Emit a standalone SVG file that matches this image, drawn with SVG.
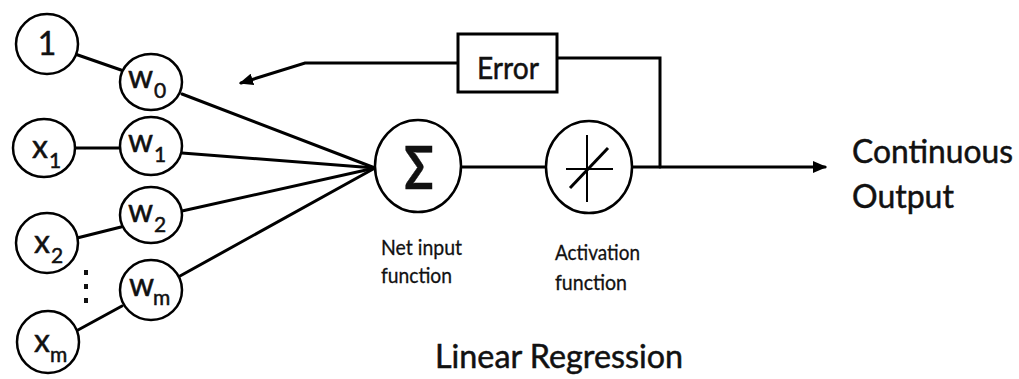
<svg xmlns="http://www.w3.org/2000/svg" width="1019" height="379" viewBox="0 0 1019 379">
<defs>
<style>
.nd{fill:#fff;stroke:#000;stroke-width:2.5}
.ln{fill:none;stroke:#000;stroke-width:3;stroke-linecap:round;stroke-linejoin:miter}
.t{font-family:Lato,"Open Sans","Liberation Sans",sans-serif;fill:#111;stroke:#111;stroke-width:0.5}
.big{font-size:32px}
.sub{font-size:21px}
.lbl{font-size:21px;stroke-width:0.3}
.hd{font-size:32px}
</style>
<marker id="ah" viewBox="0 0 14 12" refX="12" refY="6" markerWidth="14" markerHeight="12" markerUnits="userSpaceOnUse" orient="auto">
<path d="M0,0 L14,6 L0,12 z" fill="#000"/>
</marker>
</defs>
<rect width="1019" height="379" fill="#fff"/>
<g id="connectors">
<line class="ln" x1="75" y1="54" x2="121" y2="70"/>
<line class="ln" x1="75" y1="148" x2="120" y2="148"/>
<line class="ln" x1="77" y1="238" x2="121" y2="227"/>
<line class="ln" x1="78" y1="330" x2="122" y2="306"/>
<line class="ln" x1="182" y1="94" x2="375" y2="168"/>
<line class="ln" x1="182" y1="153" x2="375" y2="168"/>
<line class="ln" x1="182" y1="211" x2="375" y2="168"/>
<line class="ln" x1="180" y1="276" x2="375" y2="168"/>
<line class="ln" x1="461" y1="167" x2="546" y2="167"/>
<line class="ln" x1="632" y1="167" x2="825" y2="167" marker-end="url(#ah)"/>
<polyline class="ln" points="660,167 660,58 557,58"/>
<polyline class="ln" points="458,63 305,63 241,83" marker-end="url(#ah)"/>
</g>
<g id="node-1"><ellipse class="nd" cx="47" cy="44" rx="31" ry="30"/><text class="t big" x="47" y="55" text-anchor="middle">1</text></g>
<g id="node-x1"><ellipse class="nd" cx="44" cy="148" rx="31" ry="29"/><text class="t big" x="32" y="158">x<tspan class="sub" x="49" y="168">1</tspan></text></g>
<g id="node-x2"><ellipse class="nd" cx="47" cy="243" rx="31" ry="30"/><text class="t big" x="34" y="253">x<tspan class="sub" x="51" y="263">2</tspan></text></g>
<g id="node-xm"><ellipse class="nd" cx="48" cy="342" rx="31" ry="31"/><text class="t big" x="34" y="352">x<tspan class="sub" x="50" y="362">m</tspan></text></g>
<g id="node-w0"><ellipse class="nd" cx="151" cy="82" rx="31" ry="28"/><text class="t big" x="128" y="88">w<tspan class="sub" x="154" y="98">0</tspan></text></g>
<g id="node-w1"><ellipse class="nd" cx="151" cy="146" rx="31" ry="29"/><text class="t big" x="128" y="152">w<tspan class="sub" x="154" y="162">1</tspan></text></g>
<g id="node-w2"><ellipse class="nd" cx="151" cy="215" rx="31" ry="28"/><text class="t big" x="128" y="222">w<tspan class="sub" x="154" y="232">2</tspan></text></g>
<g id="node-wm"><ellipse class="nd" cx="151" cy="290" rx="31" ry="30"/><text class="t big" x="129" y="296">w<tspan class="sub" x="153" y="305">m</tspan></text></g>
<g id="dots" fill="#111"><rect x="84" y="270" width="4" height="5"/><rect x="84" y="284" width="4" height="5"/><rect x="84" y="298" width="4" height="5"/></g>
<g id="node-sum"><ellipse class="nd" cx="418" cy="166" rx="43" ry="46"/><text class="t" x="419" y="189" font-size="60" font-weight="bold" text-anchor="middle" transform="translate(419 0) scale(0.8 1) translate(-419 0)">Σ</text></g>
<g id="node-act"><ellipse class="nd" cx="589" cy="167" rx="43" ry="46"/>
<line x1="587" y1="135" x2="587" y2="202" stroke="#000" stroke-width="2"/>
<line x1="566" y1="169" x2="613" y2="169" stroke="#000" stroke-width="2"/>
<line x1="570" y1="188" x2="608" y2="148" stroke="#000" stroke-width="3"/></g>
<g id="node-error"><rect x="458" y="34" width="99" height="58" fill="#fff" stroke="#000" stroke-width="3"/><text class="t" x="508" y="79" font-size="31" text-anchor="middle" textLength="62" lengthAdjust="spacingAndGlyphs">Error</text></g>
<g id="labels">
<text class="t lbl" x="381" y="255" textLength="81" lengthAdjust="spacingAndGlyphs">Net input</text>
<text class="t lbl" x="381" y="283" textLength="71" lengthAdjust="spacingAndGlyphs">function</text>
<text class="t lbl" x="555" y="260" textLength="85" lengthAdjust="spacingAndGlyphs">Activation</text>
<text class="t lbl" x="555" y="290" textLength="72" lengthAdjust="spacingAndGlyphs">function</text>
<text class="t hd" x="852" y="163" textLength="161" lengthAdjust="spacingAndGlyphs">Continuous</text>
<text class="t hd" x="852" y="208">Output</text>
<text class="t hd" x="435" y="368" textLength="248" lengthAdjust="spacingAndGlyphs">Linear Regression</text>
</g>
</svg>
